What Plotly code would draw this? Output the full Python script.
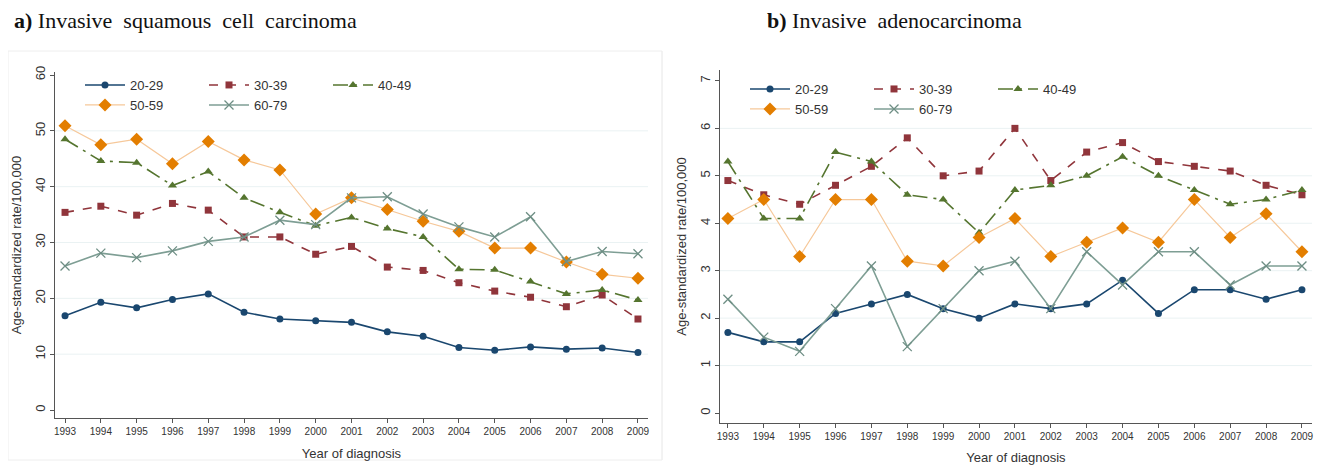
import plotly.graph_objects as go

years = list(range(1993, 2010))
groups = ["20-29", "30-39", "40-49", "50-59", "60-79"]

# a) Invasive squamous cell carcinoma
scc_20_29 = [16.9, 19.3, 18.3, 19.8, 20.8, 17.5, 16.3, 16.0, 15.7, 14.0, 13.2, 11.2, 10.7, 11.3, 10.9, 11.1, 10.3]
scc_30_39 = [35.4, 36.5, 34.9, 37.0, 35.8, 31.0, 31.0, 27.9, 29.3, 25.6, 25.0, 22.8, 21.3, 20.2, 18.5, 20.6, 16.3]
scc_40_49 = [48.5, 44.6, 44.3, 40.2, 42.7, 38.0, 35.4, 33.0, 34.5, 32.5, 31.0, 25.2, 25.1, 23.0, 20.8, 21.5, 19.7]
scc_50_59 = [50.9, 47.5, 48.5, 44.1, 48.1, 44.8, 43.0, 35.1, 38.0, 35.9, 33.8, 32.0, 29.0, 29.0, 26.5, 24.3, 23.6]
scc_60_79 = [25.8, 28.1, 27.3, 28.5, 30.2, 31.0, 34.0, 33.2, 38.0, 38.2, 35.1, 32.8, 31.0, 34.6, 26.6, 28.4, 28.0]

# b) Invasive adenocarcinoma
adc_20_29 = [1.7, 1.5, 1.5, 2.1, 2.3, 2.5, 2.2, 2.0, 2.3, 2.2, 2.3, 2.8, 2.1, 2.6, 2.6, 2.4, 2.6]
adc_30_39 = [4.9, 4.6, 4.4, 4.8, 5.2, 5.8, 5.0, 5.1, 6.0, 4.9, 5.5, 5.7, 5.3, 5.2, 5.1, 4.8, 4.6]
adc_40_49 = [5.3, 4.1, 4.1, 5.5, 5.3, 4.6, 4.5, 3.8, 4.7, 4.8, 5.0, 5.4, 5.0, 4.7, 4.4, 4.5, 4.7]
adc_50_59 = [4.1, 4.5, 3.3, 4.5, 4.5, 3.2, 3.1, 3.7, 4.1, 3.3, 3.6, 3.9, 3.6, 4.5, 3.7, 4.2, 3.4]
adc_60_79 = [2.4, 1.6, 1.3, 2.2, 3.1, 1.4, 2.2, 3.0, 3.2, 2.2, 3.4, 2.7, 3.4, 3.4, 2.7, 3.1, 3.1]

left_ticks = [0, 10, 20, 30, 40, 50, 60]
right_ticks = [0, 1, 2, 3, 4, 5, 6, 7]
left_grid = [10, 20, 30, 40, 50]
right_grid = [1, 2, 3, 4, 5, 6]

# page has an 8px body margin: figure sized to fit the 1323x465 window
OFF = 8
W, H = 1323 - OFF, 465 - OFF


def px(X):
    return (X - OFF) / W


def py(Y):
    return 1 - (Y - OFF) / H


styles = {
    "20-29": dict(line=dict(color="#1a476f", width=1.6, dash="solid"),
                  marker=dict(symbol="circle", size=7, color="#1a476f")),
    "30-39": dict(line=dict(color="#90353b", width=1.6, dash="dash"),
                  marker=dict(symbol="square", size=7, color="#90353b")),
    "40-49": dict(line=dict(color="#55752f", width=1.6, dash="longdashdot"),
                  marker=dict(symbol="triangle-up", size=8, color="#55752f")),
    "50-59": dict(line=dict(color="#f6c89a", width=1.2, dash="solid"),
                  marker=dict(symbol="diamond", size=10, color="#e37e00")),
    "60-79": dict(line=dict(color="#7e9e94", width=1.6, dash="solid"),
                  marker=dict(symbol="x-thin-open", size=9, color="#6e8e84",
                              line=dict(color="#6e8e84", width=1.3))),
}

fig = go.Figure()

left_series = [scc_20_29, scc_30_39, scc_40_49, scc_50_59, scc_60_79]
right_series = [adc_20_29, adc_30_39, adc_40_49, adc_50_59, adc_60_79]

for i, (g, vals) in enumerate(zip(groups, left_series)):
    fig.add_trace(go.Scatter(x=years, y=vals, mode="lines+markers", name=g,
                             xaxis="x", yaxis="y",
                             legend="legend" if i < 3 else "legend2",
                             **styles[g]))
for i, (g, vals) in enumerate(zip(groups, right_series)):
    fig.add_trace(go.Scatter(x=years, y=vals, mode="lines+markers", name=g,
                             xaxis="x2", yaxis="y2",
                             legend="legend3" if i < 3 else "legend4",
                             **styles[g]))

axis_font = dict(family="Liberation Sans, Arial, sans-serif", size=13, color="#333333")
xtick_font = dict(family="Liberation Sans, Arial, sans-serif", size=10, color="#333333")
ytick_font = dict(family="Liberation Sans, Arial, sans-serif", size=13, color="#333333")

common_x = dict(tickmode="array", tickvals=years, ticktext=[str(y) for y in years],
                showline=True, linecolor="#555555", linewidth=1, ticks="outside",
                ticklen=4, tickcolor="#555555", showgrid=False, zeroline=False,
                tickfont=xtick_font, automargin=False,
                title=dict(text="Year of diagnosis", font=axis_font, standoff=12),
                fixedrange=True)
common_y = dict(showline=True, linecolor="#555555", linewidth=1, ticks="outside",
                ticklen=4, tickcolor="#555555", showgrid=False, zeroline=False,
                tickfont=ytick_font, tickangle=-90, automargin=False,
                title=dict(text="Age-standardized rate/100,000", font=axis_font, standoff=8),
                fixedrange=True)

fig.update_layout(
    width=W, height=H,
    margin=dict(l=0, r=0, t=0, b=0, autoexpand=False),
    paper_bgcolor="white", plot_bgcolor="white",
    xaxis=dict(domain=[px(55), px(648)], range=[1992.72, 2009.28], anchor="y", **common_x),
    yaxis=dict(domain=[py(418), py(72)], range=[-1.43, 60.54], anchor="x",
               tickvals=left_ticks, **common_y),
    xaxis2=dict(domain=[px(720), px(1312)], range=[1992.78, 2009.28], anchor="y2", **common_x),
    yaxis2=dict(domain=[py(423), py(70)], range=[-0.21, 7.23], anchor="x2",
                tickvals=right_ticks, **common_y),
    showlegend=True,
)

leg_common = dict(orientation="h", xanchor="left", yanchor="middle",
                  bgcolor="rgba(0,0,0,0)", font=dict(family="Liberation Sans, Arial, sans-serif", size=13, color="#333333"),
                  entrywidth=69, itemwidth=40, tracegroupgap=0)
fig.update_layout(
    legend=dict(x=px(80), y=py(85), **leg_common),
    legend2=dict(x=px(80), y=py(105), **leg_common),
    legend3=dict(x=px(745), y=py(89), **leg_common),
    legend4=dict(x=px(745), y=py(109), **leg_common),
)

shapes = []
for v in left_grid:
    shapes.append(dict(type="line", xref="x domain", yref="y", x0=0, x1=1, y0=v, y1=v,
                       line=dict(color="#eaf2f3", width=1), layer="below"))
for v in right_grid:
    shapes.append(dict(type="line", xref="x2 domain", yref="y2", x0=0, x1=1, y0=v, y1=v,
                       line=dict(color="#eaf2f3", width=1), layer="below"))
# faint panel frames
shapes.append(dict(type="rect", xref="paper", yref="paper", x0=px(8), x1=px(662),
                   y0=py(460), y1=py(51), line=dict(color="#eeeeee", width=1), layer="below"))
shapes.append(dict(type="line", xref="paper", yref="paper", x0=px(662), x1=px(662),
                   y0=py(460), y1=py(51), line=dict(color="#eeeeee", width=1), layer="below"))
fig.update_layout(shapes=shapes)

title_font = dict(family="Liberation Serif, Times New Roman, serif", size=22, color="#111111")
fig.add_annotation(text="<b>a)</b> Invasive  squamous  cell  carcinoma", xref="paper", yref="paper",
                   x=px(12), y=py(20), xanchor="left", yanchor="middle",
                   showarrow=False, font=title_font)
fig.add_annotation(text="<b>b)</b> Invasive  adenocarcinoma", xref="paper", yref="paper",
                   x=px(765), y=py(20), xanchor="left", yanchor="middle",
                   showarrow=False, font=title_font)

fig.write_html("out.html")
